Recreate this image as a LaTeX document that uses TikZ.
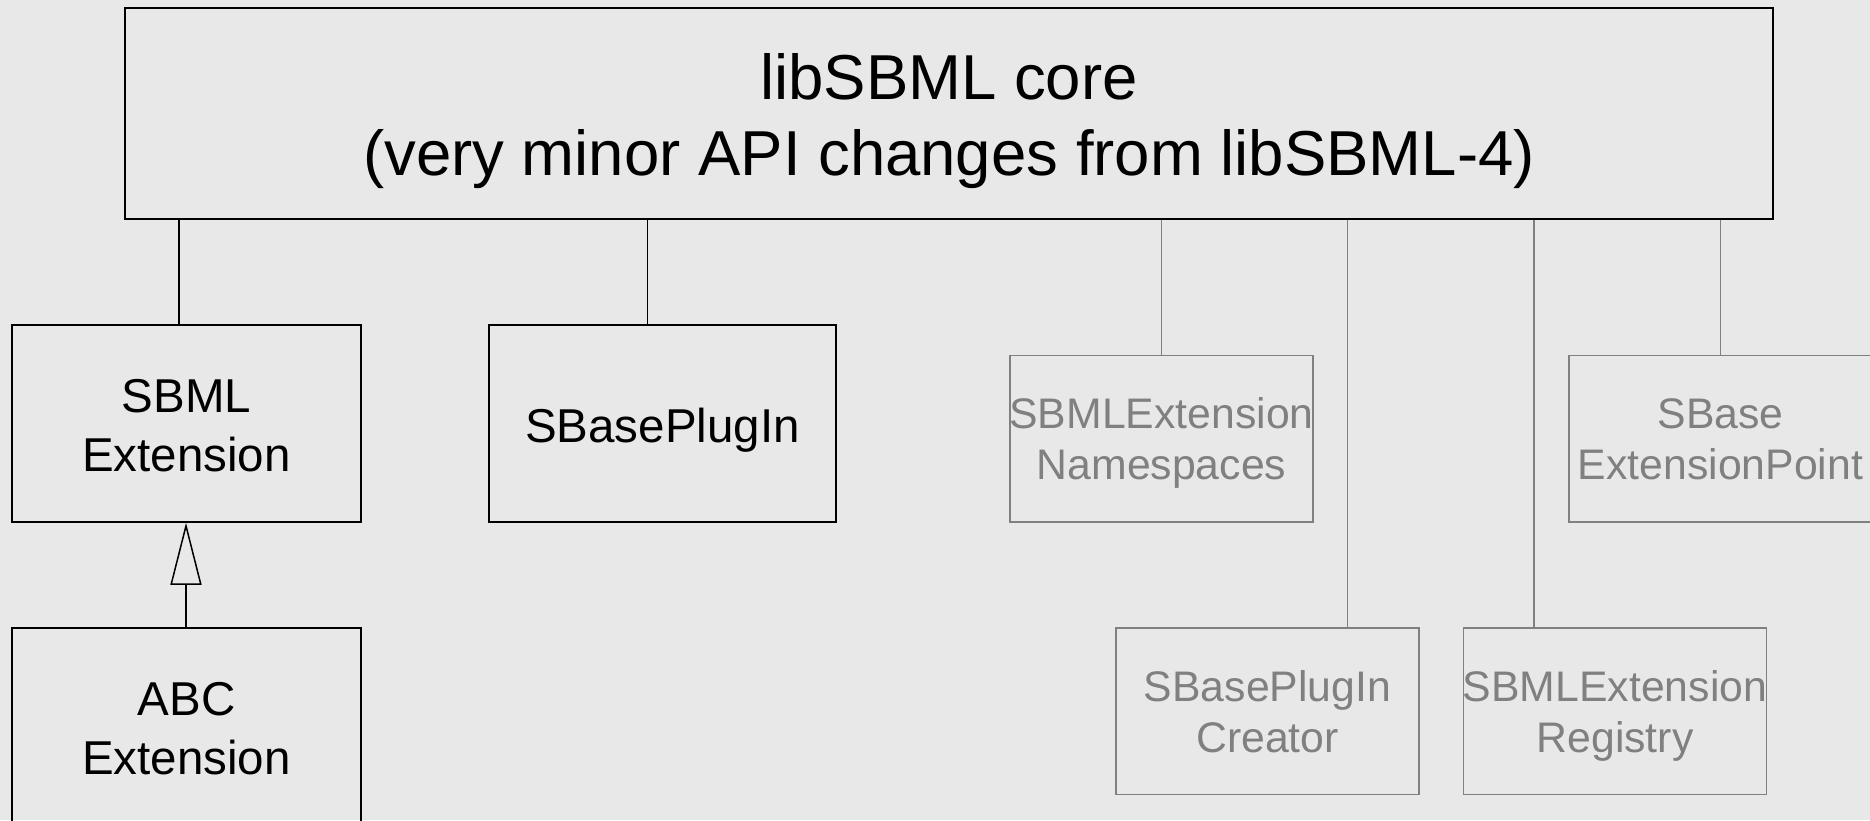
\documentclass[tikz,border=0pt]{standalone}
\usepackage{fontspec}
\setmainfont{Liberation Sans}
\usetikzlibrary{arrows.meta}
\definecolor{bgc}{HTML}{E8E8E8}
\definecolor{greyc}{HTML}{808080}
\begin{document}
\begin{tikzpicture}[x=0.4pt,y=-0.4pt,
  box/.style={draw, line width=0.6pt, inner sep=0pt},
  coretext/.style={align=center, inner sep=0pt, yshift=-3.7pt, font=\fontsize{25.4pt}{30.4pt}\selectfont},
  blacktext/.style={align=center, inner sep=0pt, yshift=-2.8pt, font=\fontsize{19pt}{23.5pt}\selectfont},
  greytext/.style={align=center, inner sep=0pt, yshift=-2.2pt, text=greyc, font=\fontsize{17.1pt}{20.3pt}\selectfont},
  greybox/.style={box, draw=greyc, minimum width=121.2pt, minimum height=66.6pt},
  blackbox/.style={box, minimum width=139.6pt, minimum height=78.8pt},
  conn/.style={line width=0.6pt},
  gconn/.style={line width=0.6pt, draw=greyc}]
\fill[bgc] (0,0) rectangle (1870,820);
\useasboundingbox (0,0) rectangle (1870,820);
\begin{scope}
\clip (0,0) rectangle (1870,820);
\node[box, minimum width=659.2pt, minimum height=84.4pt,
  label={[coretext]center:{\strut libSBML core\\\strut(very minor API changes from libSBML-4)}}] (core) at (949,113.5) {};
\node[blackbox, label={[blacktext]center:{\strut SBML\\\strut Extension}}] (sbmlext) at (186.5,423.5) {};
\node[blackbox, label={[blacktext]center:{\strut ABC\\\strut Extension}}] (abc) at (186.5,726.5) {};
\node[blackbox, minimum width=138.8pt, label={[blacktext]center:{\strut SBasePlugIn}}] (plugin) at (662.5,423.5) {};
\node[greybox, label={[greytext]center:{\strut SBMLExtension\\\strut Namespaces}}] (ns) at (1161.5,438.5) {};
\node[greybox, label={[greytext]center:{\strut SBase\\\strut ExtensionPoint}}] (extpt) at (1720.5,438.5) {};
\node[greybox, label={[greytext]center:{\strut SBasePlugIn\\\strut Creator}}] (creator) at (1267.4,711) {};
\node[greybox, label={[greytext]center:{\strut SBMLExtension\\\strut Registry}}] (registry) at (1615,711) {};

\draw[conn] ([xshift=-3pt]sbmlext.north) -- ([xshift=-3pt]sbmlext.north |- core.south);
\draw[conn] ([xshift=-5.96pt]plugin.north) -- ([xshift=-5.96pt]plugin.north |- core.south);
\draw[gconn] (ns.north) -- (ns.north |- core.south);
\draw[gconn] (extpt.north) -- (extpt.north |- core.south);
\draw[gconn] ([xshift=32.1pt]creator.north) -- ([xshift=32.1pt]creator.north |- core.south);
\draw[gconn] ([xshift=-32.4pt]registry.north) -- ([xshift=-32.4pt]registry.north |- core.south);
\draw[conn, -{Triangle[length=24.8pt, width=12.4pt, fill=bgc]}] ([xshift=-0.2pt]abc.north) -- ([xshift=-0.2pt]sbmlext.south);
\end{scope}
\end{tikzpicture}
\end{document}
